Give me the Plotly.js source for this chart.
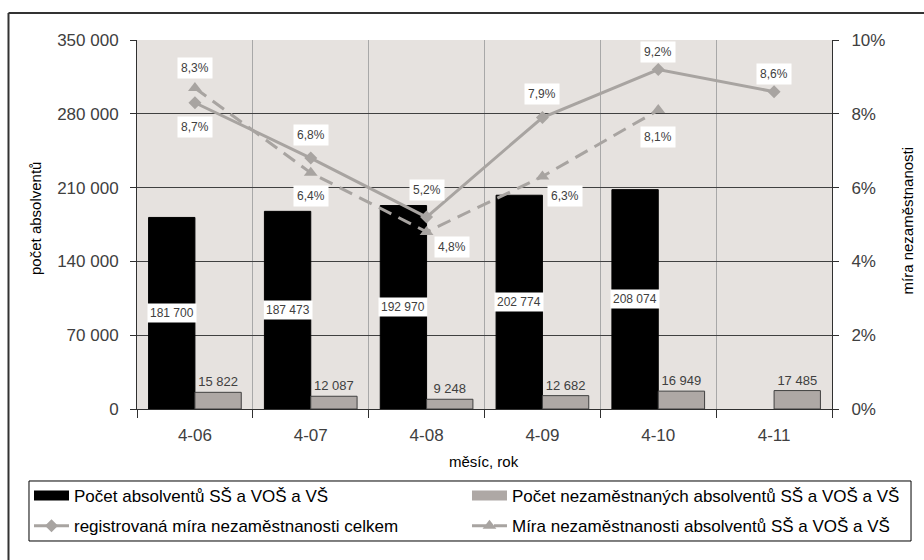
<!DOCTYPE html>
<html>
<head>
<meta charset="utf-8">
<script src="https://cdn.plot.ly/plotly-3.0.1.min.js"></script>
<style>
  html, body { margin: 0; padding: 0; background: #ffffff; }
  #chart { width: 924px; height: 560px; }
</style>
</head>
<body>
<div id="chart"></div>
<script>
// ---- data ----
var categories = ['4-06', '4-07', '4-08', '4-09', '4-10', '4-11'];
var graduatesTotal = [181700, 187473, 192970, 202774, 208074, null];
var graduatesUnemployed = [15822, 12087, 9248, 12682, 16949, 17485];
var rateTotal = [8.3, 6.8, 5.2, 7.9, 9.2, 8.6];          // %
var rateGraduates = [8.7, 6.4, 4.8, 6.3, 8.1, null];     // %

var nameTotal = 'Počet absolventů SŠ a VOŠ a VŠ';
var nameUnemployed = 'Počet nezaměstnaných absolventů SŠ a VOŠ a VŠ';
var nameRateTotal = 'registrovaná míra nezaměstnanosti celkem';
var nameRateGrad = 'Míra nezaměstnanosti absolventů SŠ a VOŠ a VŠ';

// ---- styling ----
var FONT = '"Liberation Sans", Arial, sans-serif';
var GREY_LINE = '#a8a4a1';
var GREY_BAR = '#aea8a5';
var TXT = '#404040';

// label offsets (pixels) for the line labels: [xshift, yshift]
var offTotal = [[0, 35], [0, 23], [0, 27], [0, 23], [0, 18], [0, 18]];
var offGrad = [[0, -39], [0, -23], [25, -15], [23, -19], [0, -27], [0, 0]];

function fmtInt(v) { return String(v).replace(/\B(?=(\d{3})+(?!\d))/g, ' '); }
function fmtPct(v) { return v.toFixed(1).replace('.', ',') + '%'; }

var traces = [
  {
    type: 'bar', name: nameTotal, x: categories, y: graduatesTotal,
    marker: { color: '#000000', line: { color: '#000000', width: 1 } },
    showlegend: false, hoverinfo: 'skip'
  },
  {
    type: 'bar', name: nameUnemployed, x: categories, y: graduatesUnemployed,
    marker: { color: GREY_BAR, line: { color: '#404040', width: 1 } },
    text: graduatesUnemployed.map(fmtInt), textposition: 'outside',
    textfont: { family: FONT, size: 13, color: TXT }, cliponaxis: false,
    showlegend: false, hoverinfo: 'skip'
  },
  {
    type: 'scatter', mode: 'lines+markers', name: nameRateTotal, x: categories,
    y: rateTotal.map(function (v) { return v / 100; }), yaxis: 'y2',
    line: { color: GREY_LINE, width: 3 },
    marker: { symbol: 'diamond', size: 10, color: GREY_LINE },
    legend: 'legend', legendgroup: 'g3', legendrank: 2,
    hoverinfo: 'skip'
  },
  {
    type: 'scatter', mode: 'lines+markers', name: nameRateGrad, x: categories,
    y: rateGraduates.map(function (v) { return v === null ? null : v / 100; }), yaxis: 'y2',
    line: { color: GREY_LINE, width: 3, dash: '14px,8px' },
    marker: { symbol: 'triangle-up', size: 12, color: GREY_LINE },
    legend: 'legend2', legendgroup: 'g4', legendrank: 2,
    hoverinfo: 'skip'
  },
  // legend swatches for the two bar series (wide rectangles like the original)
  {
    type: 'scatter', mode: 'lines', name: nameTotal, x: [null], y: [null],
    line: { color: '#000000', width: 12 },
    legend: 'legend', legendgroup: 'g1', legendrank: 1, hoverinfo: 'skip'
  },
  {
    type: 'scatter', mode: 'lines', name: nameUnemployed, x: [null], y: [null],
    line: { color: GREY_BAR, width: 12 },
    legend: 'legend2', legendgroup: 'g2', legendrank: 1, hoverinfo: 'skip'
  }
];

var annotations = [];
categories.forEach(function (c, i) {
  if (graduatesTotal[i] !== null) {
    annotations.push({
      x: c, y: graduatesTotal[i] / 2, xref: 'x', yref: 'y', xshift: -23.2,
      text: fmtInt(graduatesTotal[i]), showarrow: false,
      bgcolor: '#ffffff', borderpad: 2,
      font: { family: FONT, size: 12, color: TXT }
    });
  }
  if (rateTotal[i] !== null) {
    annotations.push({
      x: c, y: rateTotal[i] / 100, xref: 'x', yref: 'y2',
      xshift: offTotal[i][0], yshift: offTotal[i][1],
      text: fmtPct(rateTotal[i]), showarrow: false,
      bgcolor: '#ffffff', borderpad: 3,
      font: { family: FONT, size: 12, color: TXT }
    });
  }
  if (rateGraduates[i] !== null) {
    annotations.push({
      x: c, y: rateGraduates[i] / 100, xref: 'x', yref: 'y2',
      xshift: offGrad[i][0], yshift: offGrad[i][1],
      text: fmtPct(rateGraduates[i]), showarrow: false,
      bgcolor: '#ffffff', borderpad: 3,
      font: { family: FONT, size: 12, color: TXT }
    });
  }
});

// axis titles
annotations.push({
  xref: 'paper', yref: 'paper', x: -0.1468, y: 0.5176, textangle: -90,
  xanchor: 'center', yanchor: 'middle',
  text: 'počet absolventů', showarrow: false,
  font: { family: FONT, size: 15, color: '#000000' }
});
annotations.push({
  xref: 'paper', yref: 'paper', x: 1.108, y: 0.511, textangle: -90,
  xanchor: 'center', yanchor: 'middle',
  text: 'míra nezaměstnanosti', showarrow: false,
  font: { family: FONT, size: 15, color: '#000000' }
});
annotations.push({
  xref: 'paper', yref: 'paper', x: 0.4993, y: -0.141,
  xanchor: 'center', yanchor: 'middle',
  text: 'měsíc, rok', showarrow: false,
  font: { family: FONT, size: 15, color: '#000000' }
});

var legendCommon = {
  orientation: 'v', yanchor: 'top', xanchor: 'left',
  bgcolor: 'rgba(0,0,0,0)', borderwidth: 0,
  tracegroupgap: 5, itemwidth: 35, traceorder: 'grouped',
  font: { family: FONT, size: 17, color: '#000000' }
};

var layout = {
  width: 924, height: 560,
  margin: { l: 137, r: 92, t: 40, b: 151, autoexpand: false },
  paper_bgcolor: '#ffffff',
  plot_bgcolor: '#e6e2df',
  separators: ', ',
  font: { family: FONT, size: 17, color: TXT },
  barmode: 'group', bargap: 0.2, bargroupgap: 0,
  showlegend: true,
  legend: Object.assign({}, legendCommon, { x: -0.1554, y: -0.187 }),
  legend2: Object.assign({}, legendCommon, { x: 0.4748, y: -0.187 }),
  xaxis: {
    type: 'category', tickson: 'boundaries',
    showline: true, linecolor: '#303030', linewidth: 1,
    ticks: 'outside', ticklen: 8, tickcolor: '#303030',
    showgrid: true, gridcolor: '#a8a8a8', gridwidth: 1,
    ticklabelstandoff: 11,
    tickfont: { family: FONT, size: 17, color: TXT },
    fixedrange: true
  },
  yaxis: {
    range: [0, 350000], dtick: 70000, tick0: 0,
    tickformat: ',d',
    showline: true, linecolor: '#303030', linewidth: 1,
    ticks: 'outside', ticklen: 6, tickcolor: '#303030',
    showgrid: true, gridcolor: '#404040', gridwidth: 1,
    zeroline: false, ticklabelstandoff: 8,
    tickfont: { family: FONT, size: 17, color: TXT },
    fixedrange: true
  },
  yaxis2: {
    overlaying: 'y', side: 'right',
    range: [0, 0.10], dtick: 0.02, tick0: 0, tickformat: '.0%',
    showline: true, linecolor: '#303030', linewidth: 1,
    ticks: 'outside', ticklen: 6, tickcolor: '#303030',
    showgrid: false, zeroline: false, ticklabelstandoff: 9,
    tickfont: { family: FONT, size: 17, color: TXT },
    fixedrange: true
  },
  annotations: annotations,
  shapes: [
    // outer frame (left and top edges)
    { type: 'line', xref: 'paper', yref: 'paper', x0: -0.1849, x1: -0.1849, y0: 1.0732, y1: -0.42,
      line: { color: '#333333', width: 2 } },
    { type: 'line', xref: 'paper', yref: 'paper', x0: -0.1849, x1: 1.14, y0: 1.0732, y1: 1.0732,
      line: { color: '#333333', width: 2 } },
    // legend box
    { type: 'rect', xref: 'paper', yref: 'paper', x0: -0.1554, x1: 1.1137, y0: -0.1951, y1: -0.3577,
      line: { color: '#000000', width: 1 }, fillcolor: 'rgba(0,0,0,0)' }
  ]
};

Plotly.newPlot('chart', traces, layout, { displayModeBar: false, staticPlot: true });
</script>
</body>
</html>
